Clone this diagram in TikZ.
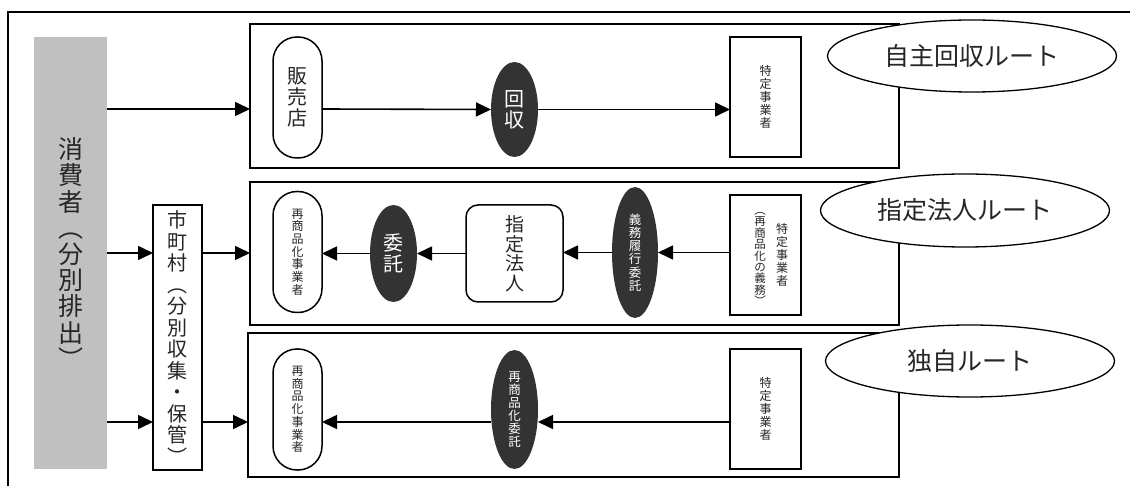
\documentclass[tikz,border=0pt]{standalone}
\usepackage{fontspec}
\setmainfont{Noto Sans CJK JP}
\usetikzlibrary{shapes.geometric,arrows.meta}
\definecolor{panelgray}{HTML}{C0C0C0}
\definecolor{darkfill}{HTML}{333333}
\definecolor{ink}{HTML}{262626}
\begin{document}
\begin{tikzpicture}[x=1pt,y=-1pt,
  every node/.style={inner sep=0pt,outer sep=0pt,text=ink,align=center},
  routebox/.style={draw,line width=1.5pt,rectangle},
  pill/.style={draw,line width=1.5pt,rectangle,rounded corners=24pt,
    minimum width=49pt,minimum height=121pt},
  plainbox/.style={draw,line width=1.5pt,rectangle},
  darkell/.style={ellipse,fill=darkfill,text=white},
  routelabel/.style={ellipse,draw,fill=white,line width=1.3pt,
    minimum width=289pt,minimum height=72pt,
    font=\fontsize{25}{26}\selectfont,text=ink},
  big/.style={font=\fontsize{20}{21}\selectfont},
  small/.style={font=\fontsize{12}{13}\selectfont},
  arr/.style={-{Triangle[length=15pt,width=14pt]},line width=1.6pt}]
\useasboundingbox (0,0) rectangle (1130,486);

% outer frame
\draw[line width=1.3pt] (8,495) -- (8,12) -- (1140,12);

% row heights of the flows
\coordinate (r1) at (0,109);
\coordinate (r2) at (0,253);
\coordinate (r3) at (0,422);

% consumer panel
\node[fill=panelgray,minimum width=73pt,minimum height=432pt,
  font=\fontsize{25}{26.2}\selectfont] (consumer) at (70.5,253)
  {消\\費\\者\\︵\\分\\別\\排\\出\\︶};

% municipality
\node[plainbox,minimum width=49pt,minimum height=265pt,
  font=\fontsize{20}{21.5}\selectfont] (city) at (177.5,337.5)
  {市\\町\\村\\︵\\分\\別\\収\\集\\・\\保\\管\\︶};

% route frames
\node[routebox,minimum width=649pt,minimum height=144pt] (box1) at (574.5,96) {};
\node[routebox,minimum width=649pt,minimum height=143pt] (box2) at (574.5,253.5) {};
\node[routebox,minimum width=651pt,minimum height=144pt] (box3) at (573.5,405) {};

% voluntary collection route
\node[pill,big] (hanbai) at (297.5,97.5) {販\\売\\店};
\node[darkell,big,minimum width=47pt,minimum height=95pt] (kaishu) at (514.5,109.5) {回\\収};
\node[plainbox,small,minimum width=71pt,minimum height=120pt] (tok1) at (765.5,97) {特\\定\\事\\業\\者};

% designated corporation route
\node[pill,small,font=\fontsize{12}{12.7}\selectfont] (sai2) at (297.5,252) {再\\商\\品\\化\\事\\業\\者};
\node[darkell,big,minimum width=47pt,minimum height=97pt] (itaku) at (393.5,253.5) {委\\託};
\node[plainbox,rounded corners=12pt,minimum width=97pt,minimum height=97pt,
  font=\fontsize{19}{19.5}\selectfont] (shitei) at (514.5,253.5) {指\\定\\法\\人};
\node[darkell,font=\fontsize{12.5}{13.3}\selectfont,minimum width=46pt,minimum height=131pt] (gimu) at (635,252.5) {義\\務\\履\\行\\委\\託};
\node[plainbox,minimum width=71pt,minimum height=120pt] (tok2) at (765.5,255) {};
\node[small] (tok2a) at (782,255) {特\\定\\事\\業\\者};
\node[font=\fontsize{11.5}{11.4}\selectfont] (tok2b) at (760,259) {︵\\再\\商\\品\\化\\の\\義\\務\\︶};

% independent route
\node[pill,font=\fontsize{12}{12.7}\selectfont] (sai3) at (297.5,409.5) {再\\商\\品\\化\\事\\業\\者};
\node[darkell,font=\fontsize{12.5}{13}\selectfont,minimum width=47pt,minimum height=119pt] (saiitaku) at (514.5,409.5) {再\\商\\品\\化\\委\\託};
\node[plainbox,small,minimum width=71pt,minimum height=120pt] (tok3) at (765.5,409) {特\\定\\事\\業\\者};

% flows
\draw[arr] (consumer.east |- r1) -- (box1.west |- r1);
\draw[arr] (hanbai.east |- r1) -- (kaishu.west);
\draw[arr] (kaishu.east) -- (tok1.west |- kaishu.east);

\draw[arr] (consumer.east |- r2) -- (city.west |- r2);
\draw[arr] (city.east |- r2) -- (box2.west |- r2);
\draw[arr] (tok2.west |- gimu.east) -- (gimu.east);
\draw[arr] (gimu.west) -- (shitei.east |- gimu.west);
\draw[arr] (shitei.west) -- (itaku.east);
\draw[arr] (itaku.west) -- (sai2.east |- itaku.west);

\draw[arr] (consumer.east |- r3) -- (city.west |- r3);
\draw[arr] (city.east |- r3) -- (box3.west |- r3);
\draw[arr] (tok3.west |- r3) -- (saiitaku.east |- r3);
\draw[arr] (saiitaku.west |- r3) -- (sai3.east |- r3);

% route labels
\node[routelabel] (lab1) at (972,56) {自主回収ルート};
\node[routelabel,minimum height=73pt] (lab2) at (965,210.5) {指定法人ルート};
\node[routelabel] (lab3) at (970,361) {独自ルート};
\end{tikzpicture}
\end{document}
